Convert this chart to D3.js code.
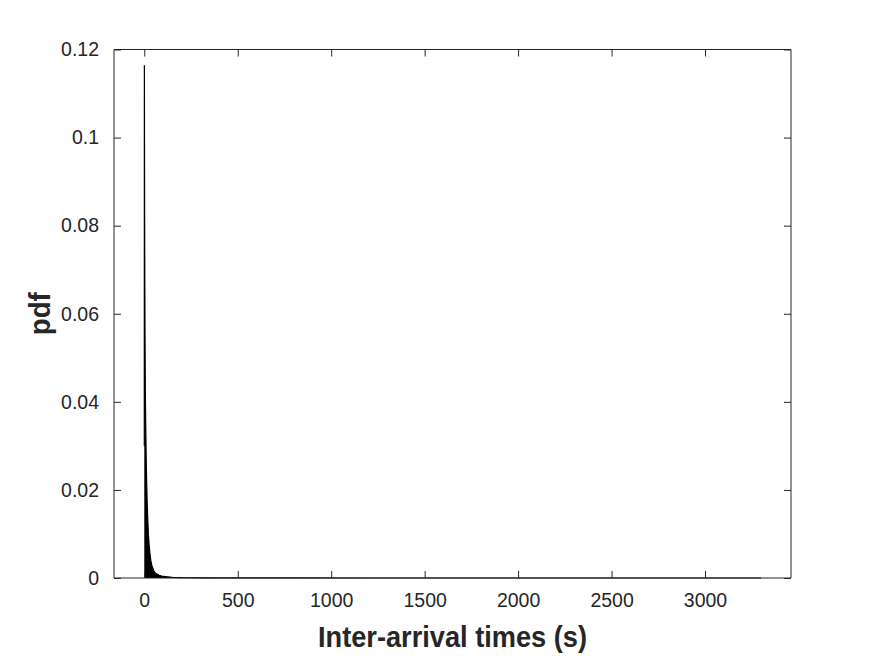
<!DOCTYPE html>
<html>
<head>
<meta charset="utf-8">
<script src="https://cdn.jsdelivr.net/npm/d3@7/dist/d3.min.js"></script>
<style>
  html, body { margin: 0; padding: 0; background: #fff; }
  svg { display: block; }
</style>
</head>
<body>
<svg id="chart" width="875" height="656"></svg>
<script>
// ---- data ----
const timesS = [0, 0.5, 1, 1.5, 2, 3, 4, 5, 6, 8, 10, 12, 15, 18, 22, 26, 30, 35, 40, 50, 60, 80, 100, 150, 200, 300, 500, 800, 1200, 2000, 2800, 3300];
const pdfValues = [0.030, 0.1164, 0.105, 0.092, 0.080, 0.066, 0.055, 0.047, 0.041, 0.034, 0.028, 0.023, 0.018, 0.014, 0.010, 0.0075, 0.0056, 0.0040, 0.0029, 0.0017, 0.0011, 0.0006, 0.00035, 0.00015, 0.00008, 0.00004, 0.00002, 0.00001, 0.000005, 0.000002, 0.000001, 0];
const xTicks = [0, 500, 1000, 1500, 2000, 2500, 3000];
const yTicks = [0, 0.02, 0.04, 0.06, 0.08, 0.1, 0.12];
const xDomain = [-162, 3460];
const yDomain = [0, 0.12];
const xLabel = "Inter-arrival times (s)";
const yLabel = "pdf";

// ---- layout ----
const svg = d3.select("#chart");
const L = 114, R = 791, T = 49.5, B = 578;
const x = d3.scaleLinear().domain(xDomain).range([L, R]);
const y = d3.scaleLinear().domain(yDomain).range([B, T]);
const ink = "#262626";
const tickFont = "'Liberation Sans', Arial, Helvetica, sans-serif";

const data = timesS.map((t, i) => ({ t, v: pdfValues[i] }));

// area + line of the pdf
const plot = svg.append("g");
plot.append("path")
  .datum(data)
  .attr("fill", "#000")
  .attr("d", d3.area().x(d => x(d.t)).y0(y(0)).y1(d => y(d.v)));
plot.append("path")
  .datum(data)
  .attr("fill", "none")
  .attr("stroke", "#000")
  .attr("stroke-width", 1.2)
  .attr("d", d3.line().x(d => x(d.t)).y(d => y(d.v)));

// axes (MATLAB style, inward ticks, box)
const tickLen = 7;
const fmtY = d => d === 0 ? "0" : String(+d.toFixed(2));

const xAxisB = svg.append("g").attr("transform", `translate(0,${B})`)
  .call(d3.axisBottom(x).tickValues(xTicks).tickSize(-tickLen).tickPadding(tickLen + 8).tickFormat(d3.format("d")));
const xAxisT = svg.append("g").attr("transform", `translate(0,${T})`)
  .call(d3.axisTop(x).tickValues(xTicks).tickSize(-tickLen).tickFormat(""));
const yAxisL = svg.append("g").attr("transform", `translate(${L},0)`)
  .call(d3.axisLeft(y).tickValues(yTicks).tickSize(-tickLen).tickPadding(tickLen + 8).tickFormat(fmtY));
const yAxisR = svg.append("g").attr("transform", `translate(${R},0)`)
  .call(d3.axisRight(y).tickValues(yTicks).tickSize(-tickLen).tickFormat(""));

[xAxisB, xAxisT, yAxisL, yAxisR].forEach(g => {
  g.select(".domain").attr("stroke", ink).attr("stroke-width", 1);
  g.selectAll(".tick line").attr("stroke", ink).attr("stroke-width", 1);
  g.selectAll(".tick text")
    .attr("fill", ink)
    .style("font-family", tickFont)
    .style("font-size", "19.5px");
});
// remove outer tick stubs from domain paths (keep flat box lines)
xAxisB.select(".domain").attr("d", `M${L},0H${R}`);
xAxisT.select(".domain").attr("d", `M${L},0H${R}`);
yAxisL.select(".domain").attr("d", `M0,${B}V${T}`);
yAxisR.select(".domain").attr("d", `M0,${B}V${T}`);
xAxisB.selectAll(".tick text").attr("dy", "0.71em");

// axis labels
svg.append("text")
  .attr("x", (L + R) / 2)
  .attr("y", 647)
  .attr("text-anchor", "middle")
  .attr("fill", ink)
  .attr("textLength", 269)
  .attr("lengthAdjust", "spacingAndGlyphs")
  .style("font-family", tickFont)
  .style("font-weight", "bold")
  .style("font-size", "30px")
  .text(xLabel);

svg.append("text")
  .attr("transform", `translate(50,${(T + B) / 2}) rotate(-90)`)
  .attr("text-anchor", "middle")
  .attr("fill", ink)
  .attr("textLength", 43)
  .attr("lengthAdjust", "spacingAndGlyphs")
  .style("font-family", tickFont)
  .style("font-weight", "bold")
  .style("font-size", "30px")
  .text(yLabel);
</script>
</body>
</html>
